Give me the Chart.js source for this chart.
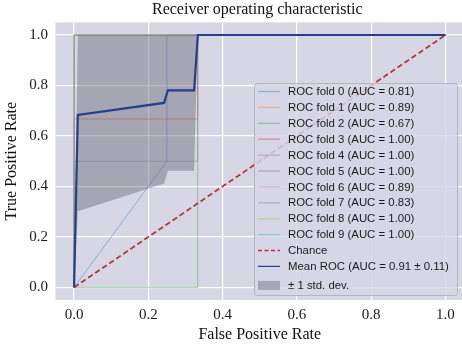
<!DOCTYPE html>
<html>
<head>
<meta charset="utf-8">
<script src="https://cdn.jsdelivr.net/npm/chart.js@4.4.1/dist/chart.umd.min.js"></script>
<style>
  html, body { margin: 0; padding: 0; background: #fff; overflow: hidden; }
  canvas { display: block; }
</style>
</head>
<body>
<canvas id="rocChart" width="464" height="345"></canvas>
<script>
// per-fold ROC curves
const foldAuc = [0.81, 0.89, 0.67, 1.00, 1.00, 1.00, 0.89, 0.83, 1.00, 1.00];
const foldFpr = [
    [0, 0.25, 0.25, 1],
    [0, 0, 0.333, 0.333, 1],
    [0, 0.333, 0.333, 1],
    [0, 0, 1],
    [0, 0, 1],
    [0, 0, 1],
    [0, 0, 0.333, 0.333, 1],
    [0, 0, 0.333, 0.333, 1],
    [0, 0, 1],
    [0, 0, 1]
];
const foldTpr = [
    [0, 0.5, 1, 1],
    [0, 0.667, 0.667, 1, 1],
    [0, 0, 1, 1],
    [0, 1, 1],
    [0, 1, 1],
    [0, 1, 1],
    [0, 0.667, 0.667, 1, 1],
    [0, 0.5, 0.5, 1, 1],
    [0, 1, 1],
    [0, 1, 1]
];
const foldColors = ['#1f77b4', '#ff7f0e', '#2ca02c', '#d62728', '#9467bd',
                    '#8c564b', '#e377c2', '#7f7f7f', '#bcbd22', '#17becf'];

// mean curve and +/- 1 std band
const meanFpr = [0, 0.0101, 0.2424, 0.2525, 0.3232, 0.3333, 1.0];
const meanTpr = [0, 0.683, 0.731, 0.781, 0.781, 1.0, 1.0];
const stdUpper = [0, 1.0, 1.0, 1.0, 1.0, 1.0, 1.0];
const stdLower = [0, 0.302, 0.412, 0.462, 0.462, 1.0, 1.0];
const meanAuc = 0.91;
const stdAuc = 0.11;

const chanceFpr = [0, 1];
const chanceTpr = [0, 1];

const xTicks = [0.0, 0.2, 0.4, 0.6, 0.8, 1.0];
const yTicks = [0.0, 0.2, 0.4, 0.6, 0.8, 1.0];

const TITLE = 'Receiver operating characteristic';
const SERIF = '"Liberation Serif", "Times New Roman", serif';
const SANS = '"Liberation Sans", Arial, sans-serif';
const PLOT_BG = '#d6d6e5';
const BAND = 'rgba(98, 98, 110, 0.42)';

function toPoints(xs, ys) {
    return xs.map((x, i) => ({x: x, y: ys[i]}));
}

function hexAlpha(hex, a) {
    const n = parseInt(hex.slice(1), 16);
    return `rgba(${(n >> 16) & 255}, ${(n >> 8) & 255}, ${n & 255}, ${a})`;
}

const datasets = [];

datasets.push({
    label: `Mean ROC (AUC = ${meanAuc.toFixed(2)} \u00b1 ${stdAuc.toFixed(2)})`,
    data: toPoints(meanFpr, meanTpr),
    borderColor: '#233f8e',
    borderWidth: 2.2,
    order: 0,
    legendKind: 'line',
    legendPos: 11
});
datasets.push({
    label: '\u00b1 1 std. dev.',
    data: toPoints(meanFpr, stdUpper),
    borderWidth: 0,
    borderColor: 'rgba(0,0,0,0)',
    backgroundColor: BAND,
    fill: '+1',
    order: 1,
    legendKind: 'patch',
    legendPos: 12
});
datasets.push({
    label: 'lower',
    data: toPoints(meanFpr, stdLower),
    borderWidth: 0,
    borderColor: 'rgba(0,0,0,0)',
    order: 2,
    legendKind: null
});
datasets.push({
    label: 'Chance',
    data: toPoints(chanceFpr, chanceTpr),
    borderColor: '#b3353a',
    borderWidth: 1.8,
    borderDash: [5.5, 3],
    order: 3,
    legendKind: 'dash',
    legendPos: 10
});
foldAuc.forEach((auc, i) => {
    datasets.push({
        label: `ROC fold ${i} (AUC = ${auc.toFixed(2)})`,
        data: toPoints(foldFpr[i], foldTpr[i]),
        borderColor: hexAlpha(foldColors[i], 0.42),
        borderWidth: 1,
        order: 13 - i,   // later folds on top, like the original
        legendKind: 'line',
        legendPos: i
    });
});

const plotBgPlugin = {
    id: 'plotBg',
    beforeDraw(chart) {
        const {ctx, chartArea: a} = chart;
        ctx.save();
        ctx.fillStyle = PLOT_BG;
        ctx.fillRect(a.left, a.top, a.right - a.left, a.bottom - a.top);
        ctx.restore();
    }
};

// title centred over the axes, not the whole canvas
const axesTitlePlugin = {
    id: 'axesTitle',
    afterDraw(chart) {
        const {ctx, chartArea: a} = chart;
        ctx.save();
        ctx.font = '16px ' + SERIF;
        ctx.fillStyle = '#111';
        ctx.textAlign = 'center';
        ctx.textBaseline = 'middle';
        ctx.fillText(TITLE, (a.left + 459) / 2, 9.5);
        ctx.restore();
    }
};

const legendPlugin = {
    id: 'rocLegend',
    afterDatasetsDraw(chart) {
        const {ctx, chartArea: a} = chart;
        const w = 203, h = 212;
        const x0 = a.right - 7 - w;
        const y0 = a.bottom - 5 - h;
        ctx.save();
        ctx.beginPath();
        ctx.roundRect(x0 + 0.5, y0 + 0.5, w, h, 3);
        ctx.fillStyle = 'rgba(214, 214, 229, 0.82)';
        ctx.fill();
        ctx.strokeStyle = '#b4b4bf';
        ctx.lineWidth = 1;
        ctx.stroke();

        ctx.font = '11.4px ' + SANS;
        ctx.textBaseline = 'middle';
        ctx.textAlign = 'left';
        chart.data.datasets.forEach(ds => {
            if (!ds.legendKind) return;
            let cy = y0 + 8.5 + ds.legendPos * 15.9;
            if (ds.legendKind === 'patch') cy = y0 + 8.5 + 11 * 15.9 + 19;
            const hx = x0 + 4, hw = 22;
            if (ds.legendKind === 'patch') {
                ctx.fillStyle = BAND;
                ctx.fillRect(hx, cy - 4.5, hw, 9);
            } else {
                ctx.beginPath();
                ctx.setLineDash(ds.legendKind === 'dash' ? [4, 2.5] : []);
                ctx.strokeStyle = ds.borderColor;
                ctx.lineWidth = ds.legendKind === 'dash' ? 1.4 : 1.2;
                ctx.moveTo(hx, cy);
                ctx.lineTo(hx + hw, cy);
                ctx.stroke();
                ctx.setLineDash([]);
            }
            ctx.fillStyle = '#1a1a1a';
            ctx.fillText(ds.label, x0 + 34, cy + 0.5);
        });
        ctx.restore();
    }
};

new Chart(document.getElementById('rocChart'), {
    type: 'line',
    data: {datasets: datasets},
    options: {
        responsive: false,
        animation: false,
        events: [],
        layout: {padding: {top: 22.4, left: 0, right: 0, bottom: 0}},
        elements: {
            point: {radius: 0},
            line: {tension: 0}
        },
        plugins: {
            legend: {display: false},
            tooltip: {enabled: false},
            title: {display: false}
        },
        scales: {
            x: {
                type: 'linear',
                min: -0.05,
                max: 1.05,
                afterBuildTicks: s => { s.ticks = xTicks.map(v => ({value: v})); },
                afterFit: s => { s.height = 45; },
                grid: {color: '#ffffff', lineWidth: 1.2, drawTicks: false},
                border: {display: false},
                ticks: {
                    padding: 6,
                    color: '#1a1a1a',
                    font: {family: SERIF, size: 15, lineHeight: 1.2},
                    callback: v => v.toFixed(1)
                },
                title: {
                    display: true,
                    text: 'False Positive Rate',
                    color: '#111',
                    font: {family: SERIF, size: 16, lineHeight: 1.2},
                    padding: {top: 0, bottom: 0.4}
                }
            },
            y: {
                type: 'linear',
                min: -0.05,
                max: 1.05,
                afterBuildTicks: s => { s.ticks = yTicks.map(v => ({value: v})); },
                afterFit: s => { s.width = 55.5; },
                grid: {color: '#ffffff', lineWidth: 1.2, drawTicks: false},
                border: {display: false},
                ticks: {
                    padding: 7.5,
                    color: '#1a1a1a',
                    font: {family: SERIF, size: 15, lineHeight: 1.2},
                    callback: v => v.toFixed(1)
                },
                title: {
                    display: true,
                    text: 'True Positive Rate',
                    color: '#111',
                    font: {family: SERIF, size: 16, lineHeight: 1.2},
                    padding: {top: 2.4, bottom: 0}
                }
            }
        }
    },
    plugins: [plotBgPlugin, legendPlugin, axesTitlePlugin]
});
</script>
</body>
</html>
